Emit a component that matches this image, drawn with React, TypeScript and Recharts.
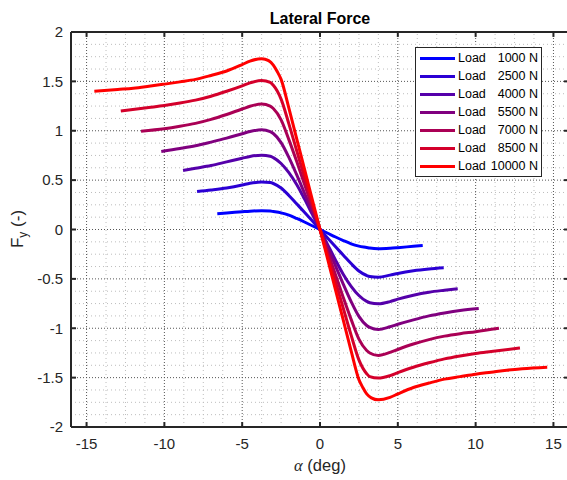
import React from 'react';
import { LineChart, Line, XAxis, YAxis, CartesianGrid, ReferenceLine } from 'recharts';

// tick labels
const xTicks = [-15, -10, -5, 0, 5, 10, 15];
const yTicks = [-2, -1.5, -1, -0.5, 0, 0.5, 1, 1.5, 2];

// vertical loads (N)
const loads = [1000, 2500, 4000, 5500, 7000, 8500, 10000];

// slip angle (deg) and lateral force (-), one pair per load
const alpha1000 = [-6.6, -6, -5, -4.5, -3.75, -3.2, -3, -2.5, -2, -1.5, -1, -0.5, 0, 0.5, 1, 1.5, 2, 2.5, 3, 3.2, 3.75, 4.5, 5, 6, 6.6];
const fy1000 = [0.16, 0.167, 0.18, 0.186, 0.19, 0.187, 0.182, 0.168, 0.145, 0.112, 0.076, 0.038, 0, -0.038, -0.076, -0.112, -0.145, -0.168, -0.182, -0.188, -0.195, -0.19, -0.184, -0.17, -0.162];

const alpha2500 = [-7.9, -7, -6, -5, -4.5, -3.75, -3.2, -3, -2.5, -2, -1.5, -1, -0.5, 0, 0.5, 1, 1.5, 2, 2.5, 3, 3.2, 3.75, 4.5, 5, 6, 7, 7.95];
const fy2500 = [0.385, 0.4, 0.42, 0.45, 0.468, 0.48, 0.475, 0.466, 0.42, 0.345, 0.26, 0.175, 0.088, 0, -0.088, -0.175, -0.26, -0.345, -0.42, -0.466, -0.476, -0.483, -0.462, -0.445, -0.418, -0.4, -0.388];

const alpha4000 = [-8.8, -8, -7, -6, -5, -4.5, -3.75, -3.2, -3, -2.5, -2, -1.5, -1, -0.5, 0, 0.5, 1, 1.5, 2, 2.5, 3, 3.2, 3.75, 4.5, 5, 6, 7, 8, 8.85];
const fy4000 = [0.598, 0.62, 0.648, 0.685, 0.722, 0.74, 0.752, 0.742, 0.728, 0.668, 0.575, 0.455, 0.31, 0.155, 0, -0.155, -0.31, -0.455, -0.575, -0.668, -0.728, -0.742, -0.753, -0.73, -0.705, -0.665, -0.635, -0.615, -0.6];

const alpha5500 = [-10.2, -9, -8, -7, -6, -5, -4.5, -3.75, -3.2, -3, -2.5, -2, -1.5, -1, -0.5, 0, 0.5, 1, 1.5, 2, 2.5, 3, 3.2, 3.75, 4.5, 5, 6, 7, 8, 9, 10.2];
const fy5500 = [0.79, 0.82, 0.848, 0.885, 0.925, 0.97, 0.992, 1.01, 0.992, 0.972, 0.88, 0.73, 0.555, 0.37, 0.185, 0, -0.185, -0.37, -0.555, -0.73, -0.88, -0.972, -0.992, -1.013, -0.985, -0.96, -0.915, -0.875, -0.845, -0.82, -0.8];

const alpha7000 = [-11.5, -10, -9, -8, -7, -6, -5, -4.5, -3.75, -3.2, -3, -2.5, -2, -1.5, -1, -0.5, 0, 0.5, 1, 1.5, 2, 2.5, 3, 3.2, 3.75, 4.5, 5, 6, 7, 8, 9, 10, 11.5];
const fy7000 = [0.996, 1.02, 1.045, 1.075, 1.115, 1.165, 1.22, 1.248, 1.27, 1.25, 1.225, 1.11, 0.91, 0.69, 0.46, 0.23, 0, -0.23, -0.46, -0.69, -0.91, -1.11, -1.225, -1.25, -1.275, -1.245, -1.215, -1.16, -1.115, -1.08, -1.055, -1.035, -1.0];

const alpha8500 = [-12.8, -11, -10, -9, -8, -7, -6, -5, -4.5, -3.75, -3.2, -3, -2.5, -2, -1.5, -1, -0.5, 0, 0.5, 1, 1.5, 2, 2.5, 3, 3.2, 3.75, 4.5, 5, 6, 7, 8, 9, 10, 11, 12.85];
const fy8500 = [1.2, 1.235, 1.255, 1.28, 1.31, 1.35, 1.4, 1.455, 1.485, 1.51, 1.49, 1.46, 1.32, 1.07, 0.8, 0.53, 0.265, 0, -0.265, -0.53, -0.8, -1.07, -1.32, -1.46, -1.49, -1.505, -1.48, -1.45, -1.395, -1.35, -1.31, -1.28, -1.255, -1.235, -1.2];

const alpha10000 = [-14.5, -13, -12, -11, -10, -9, -8, -7, -6, -5, -4.5, -3.75, -3.3, -3, -2.75, -2.5, -2, -1.5, -1, -0.5, 0, 0.5, 1, 1.5, 2, 2.5, 2.75, 3, 3.3, 3.75, 4.5, 5, 6, 7, 8, 9, 10, 11, 12, 13, 14.6];
const fy10000 = [1.4, 1.418, 1.43, 1.45, 1.472, 1.495, 1.52, 1.56, 1.605, 1.67, 1.705, 1.73, 1.71, 1.665, 1.6, 1.52, 1.23, 0.92, 0.615, 0.305, 0, -0.305, -0.615, -0.92, -1.23, -1.52, -1.6, -1.665, -1.705, -1.725, -1.7, -1.665, -1.6, -1.555, -1.515, -1.49, -1.465, -1.445, -1.425, -1.41, -1.395];

const alphas = [alpha1000, alpha2500, alpha4000, alpha5500, alpha7000, alpha8500, alpha10000];
const forces = [fy1000, fy2500, fy4000, fy5500, fy7000, fy8500, fy10000];

const colors = ['#0000FF', '#2B00D4', '#5500AA', '#80007F', '#AA0055', '#D4002B', '#FF0000'];

const series = loads.map((load, i) => ({
  name: `load${load}`,
  load,
  color: colors[i],
  data: alphas[i].map((a, j) => ({ alpha: a, fy: forces[i][j] })),
}));

// minor grid positions
const xMinor: number[] = [];
for (let v = -15; v <= 15.001; v += 1.25) {
  if (Math.abs(v / 5 - Math.round(v / 5)) > 0.01) xMinor.push(+v.toFixed(2));
}
const yMinor: number[] = [];
for (let v = -2; v <= 2.001; v += 0.125) {
  if (Math.abs(v / 0.5 - Math.round(v / 0.5)) > 0.01) yMinor.push(+v.toFixed(3));
}

const AXIS = '#262626';
const FONT = '"Liberation Sans", Arial, sans-serif';
const xTickLen = 0.32; // ~5px inward
const yTickLen = 0.05;

export default function App() {
  return (
    <div style={{ position: 'absolute', left: 0, top: 0, width: 567, height: 480, overflow: 'hidden', background: '#fff', fontFamily: FONT }}>
      <LineChart width={580} height={480} data={series[0].data} margin={{ top: 32, right: 11, bottom: 23, left: 21 }}>
        {xMinor.map((v) => (
          <ReferenceLine key={`xm${v}`} x={v} stroke="#bdbdbd" strokeDasharray="1 3" />
        ))}
        {yMinor.map((v) => (
          <ReferenceLine key={`ym${v}`} y={v} stroke="#bdbdbd" strokeDasharray="1 3" />
        ))}
        <CartesianGrid stroke="#555" strokeDasharray="1 2" />
        <XAxis
          dataKey="alpha"
          type="number"
          domain={[-16, 16]}
          ticks={xTicks}
          allowDataOverflow
          tickLine={false}
          axisLine={{ stroke: AXIS, strokeWidth: 2 }}
          tick={{ fill: AXIS, fontSize: 15, fontFamily: FONT }}
          tickMargin={5}
          height={30}
        />
        <YAxis
          type="number"
          domain={[-2, 2]}
          ticks={yTicks}
          allowDataOverflow
          tickLine={false}
          axisLine={{ stroke: AXIS, strokeWidth: 2 }}
          tick={{ fill: AXIS, fontSize: 15, fontFamily: FONT }}
          tickMargin={2}
          width={50}
        />
        <ReferenceLine y={2} stroke={AXIS} strokeWidth={2} />
        <ReferenceLine x={16} stroke={AXIS} strokeWidth={2} />
        {xTicks.map((v) => (
          <ReferenceLine key={`xb${v}`} segment={[{ x: v, y: -2 }, { x: v, y: -2 + yTickLen }]} stroke={AXIS} strokeWidth={2} />
        ))}
        {xTicks.map((v) => (
          <ReferenceLine key={`xt${v}`} segment={[{ x: v, y: 2 }, { x: v, y: 2 - yTickLen }]} stroke={AXIS} strokeWidth={2} />
        ))}
        {yTicks.map((v) => (
          <ReferenceLine key={`yl${v}`} segment={[{ x: -16, y: v }, { x: -16 + xTickLen, y: v }]} stroke={AXIS} strokeWidth={2} />
        ))}
        {yTicks.map((v) => (
          <ReferenceLine key={`yr${v}`} segment={[{ x: 16, y: v }, { x: 16 - xTickLen, y: v }]} stroke={AXIS} strokeWidth={2} />
        ))}
        {series.map((s) => (
          <Line
            key={s.name}
            data={s.data}
            dataKey="fy"
            type="monotone"
            stroke={s.color}
            strokeWidth={3}
            dot={false}
            isAnimationActive={false}
          />
        ))}
      </LineChart>

      {/* title */}
      <div style={{ position: 'absolute', left: 220, top: 11, width: 200, textAlign: 'center', fontSize: 16, lineHeight: '16px', fontWeight: 'bold', color: '#000' }}>
        Lateral Force
      </div>

      {/* x label */}
      <div style={{ position: 'absolute', left: 220, top: 457, width: 200, textAlign: 'center', fontSize: 16.5, lineHeight: '16px', color: AXIS, whiteSpace: 'nowrap' }}>
        <span style={{ fontFamily: '"Liberation Serif", serif', fontStyle: 'italic' }}>α</span> (deg)
      </div>

      {/* y label */}
      <div style={{ position: 'absolute', left: 17, top: 229, transform: 'translate(-50%, -50%) rotate(-90deg)', fontSize: 17, lineHeight: '17px', color: AXIS, whiteSpace: 'nowrap' }}>
        F<sub style={{ fontSize: 12, verticalAlign: 'sub', lineHeight: 0 }}>y</sub> (-)
      </div>

      {/* legend */}
      <div style={{ position: 'absolute', left: 415, top: 47, width: 125, border: `1px solid ${AXIS}`, background: '#fff', paddingTop: 1, paddingBottom: 1, fontSize: 12.5, color: '#000' }}>
        {series.map((s) => (
          <div key={s.name} style={{ display: 'flex', alignItems: 'center', height: 18 }}>
            <div style={{ marginLeft: 4, width: 35, height: 3, background: s.color }} />
            <span style={{ marginLeft: 3 }}>Load</span>
            <span style={{ flex: 1, textAlign: 'right', marginRight: 3 }}>{s.load} N</span>
          </div>
        ))}
      </div>
    </div>
  );
}
